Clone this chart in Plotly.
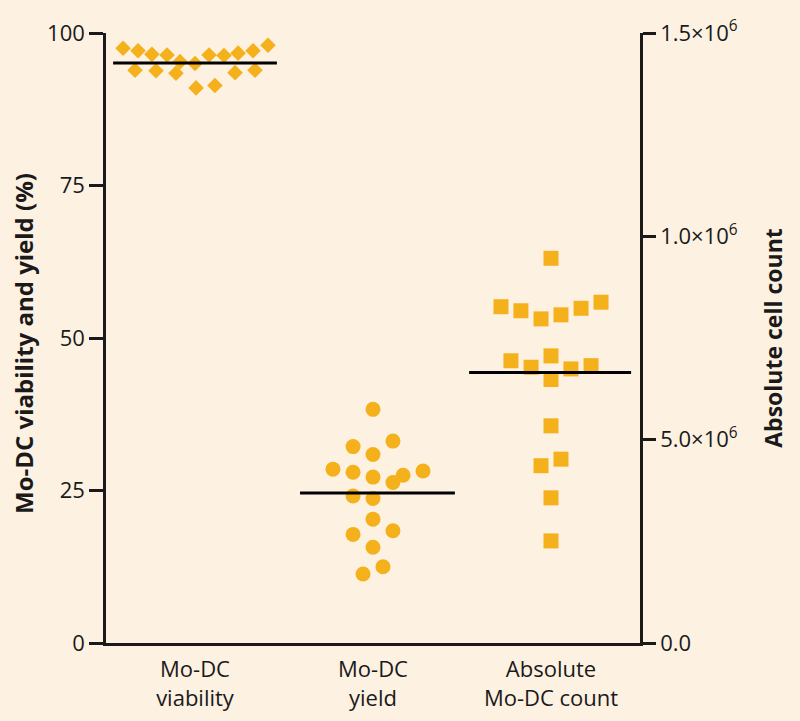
import plotly.graph_objects as go

categories = ["Mo-DC<br>viability", "Mo-DC<br>yield", "Absolute<br>Mo-DC count"]

viability_values = [97.5, 97.1, 96.5, 96.4, 95.3, 95.0, 96.4, 96.3, 96.7, 97.1, 98.0,
                    93.9, 93.8, 93.4, 91.0, 91.4, 93.5, 93.9]
viability_offsets = [-0.404, -0.320, -0.242, -0.157, -0.084, 0.0, 0.079, 0.163, 0.242, 0.326, 0.410,
                     -0.337, -0.219, -0.107, 0.006, 0.112, 0.225, 0.337]

yield_values = [38.3, 32.2, 33.1, 30.9, 28.5, 28.0, 27.2, 27.5, 28.2, 26.3, 24.1, 23.7,
                20.3, 17.8, 18.4, 15.7, 12.5, 11.3]
yield_offsets = [0, -0.112, 0.112, 0, -0.225, -0.112, 0, 0.169, 0.281, 0.112, -0.112, 0,
                 0, -0.112, 0.112, 0, 0.056, -0.056]

count_values = [946000, 827000, 817000, 797000, 807000, 823000, 838000, 694000, 678000,
                706000, 674000, 682000, 648000, 534000, 436000, 452000, 357000, 251000]
count_offsets = [0, -0.281, -0.169, -0.056, 0.056, 0.169, 0.281, -0.225, -0.112, 0,
                 0.112, 0.225, 0, 0, -0.056, 0.056, 0, 0]

medians = [95.1, 24.6, 665000]
median_extent = [(-0.46, 0.46), (-0.41, 0.46), (-0.46, 0.45)]

left_ticks = [0, 25, 50, 75, 100]
right_tickvals = [0, 500000, 1000000, 1500000]
right_ticktext = ["0.0", "5.0×10<sup>6</sup>", "1.0×10<sup>6</sup>", "1.5×10<sup>6</sup>"]

left_title = "Mo-DC viability and yield (%)"
right_title = "Absolute cell count"

BG = "#FDF1E2"
MARK = "#F5B11B"
INK = "#1a1a1a"
FONT = "Open Sans"

fig = go.Figure()

fig.add_trace(go.Scatter(
    x=[0 + o for o in viability_offsets], y=viability_values, mode="markers",
    marker=dict(symbol="diamond", size=12, color=MARK), xaxis="x", yaxis="y", showlegend=False))
fig.add_trace(go.Scatter(
    x=[1 + o for o in yield_offsets], y=yield_values, mode="markers",
    marker=dict(symbol="circle", size=15, color=MARK), xaxis="x", yaxis="y", showlegend=False))
fig.add_trace(go.Scatter(
    x=[2 + o for o in count_offsets], y=count_values, mode="markers",
    marker=dict(symbol="square", size=15, color=MARK), xaxis="x", yaxis="y2", showlegend=False))

for i, (m, (a, b)) in enumerate(zip(medians, median_extent)):
    fig.add_trace(go.Scatter(
        x=[i + a, i + b], y=[m, m], mode="lines",
        line=dict(color="black", width=3), xaxis="x", yaxis="y2" if i == 2 else "y",
        showlegend=False, hoverinfo="skip"))

fig.update_layout(
    width=800, height=721,
    margin=dict(l=106, r=160, t=33, b=78),
    paper_bgcolor=BG, plot_bgcolor=BG,
    font=dict(family=FONT, color=INK),
    xaxis=dict(range=[-0.5, 2.5], tickvals=[0, 1, 2], ticktext=categories,
               ticks="", showgrid=False, zeroline=False, showline=True,
               linecolor=INK, linewidth=2.5, tickfont=dict(size=22, family=FONT),
               ticklabelstandoff=5, automargin=False),
    xaxis2=dict(range=[-0.5, 2.5], overlaying="x", side="bottom", tickvals=[0.5, 1.5],
                ticktext=["", ""], ticks="outside", ticklen=17, tickwidth=2.5,
                tickcolor=INK, showgrid=False, zeroline=False, showline=False,
                showticklabels=False, automargin=False),
    yaxis=dict(range=[0, 100], tickvals=left_ticks, ticks="outside", ticklen=14,
               tickwidth=2.5, tickcolor=INK, showgrid=False, zeroline=False,
               showline=True, linecolor=INK, linewidth=2.5,
               tickfont=dict(size=22, family=FONT), automargin=False),
    yaxis2=dict(range=[0, 1500000], overlaying="y", side="right",
                tickvals=right_tickvals, ticktext=right_ticktext, ticks="outside",
                ticklen=13, tickwidth=2.5, tickcolor=INK, showgrid=False,
                zeroline=False, showline=True, linecolor=INK, linewidth=2.5,
                tickfont=dict(size=22, family=FONT), automargin=False,
                title=dict(text="<b>%s</b>" % right_title,
                           font=dict(size=23, family=FONT), standoff=30)),
    annotations=[dict(text="<b>%s</b>" % left_title, xref="paper", yref="paper",
                      x=0, y=0.5, xanchor="center", yanchor="middle", xshift=-83,
                      yshift=-6, textangle=-90, showarrow=False,
                      font=dict(size=24, family=FONT, color=INK))],
)

fig.write_html("out.html", config={"displayModeBar": False},
               post_script="document.body.style.margin='0';document.body.style.background='%s';" % BG)
